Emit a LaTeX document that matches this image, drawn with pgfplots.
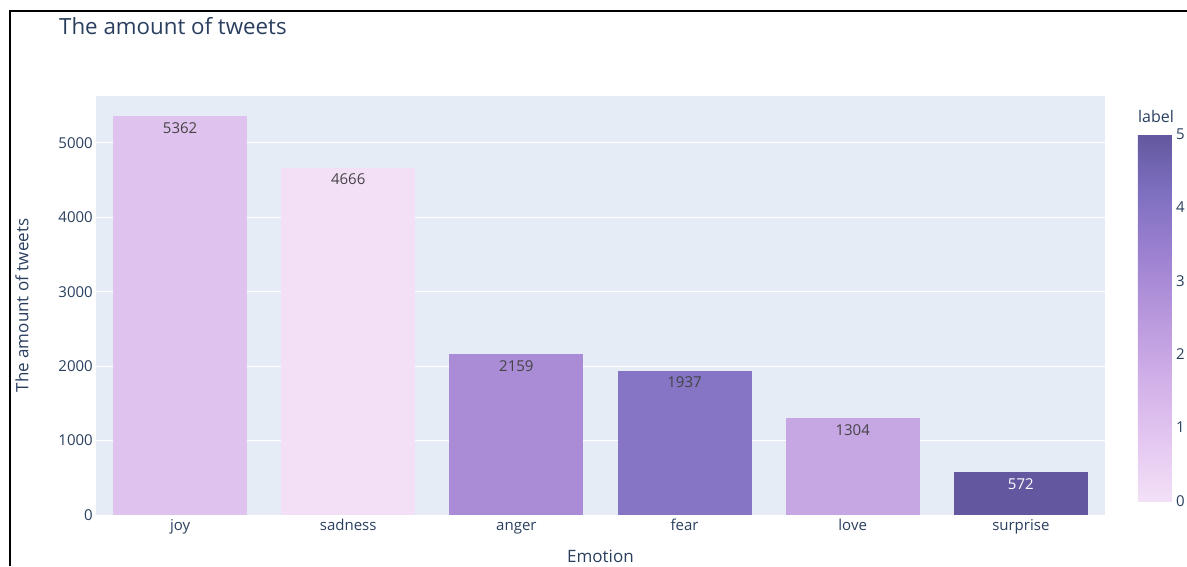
\documentclass[border=0pt]{standalone}
\usepackage{fontspec}
\setmainfont{Open Sans}
\usepackage{pgfplots}
\pgfplotsset{compat=1.18}
\definecolor{txt}{RGB}{42,63,95}
\definecolor{bg}{RGB}{229,236,246}
\definecolor{valtxt}{RGB}{68,68,68}
\definecolor{c0}{RGB}{243,224,247}
\definecolor{c1}{RGB}{224,194,239}
\definecolor{c2}{RGB}{199,166,228}
\definecolor{c3}{RGB}{169,139,214}
\definecolor{c4}{RGB}{134,116,196}
\definecolor{c5}{RGB}{99,88,159}
\begin{document}
\begin{tikzpicture}[x=1pt,y=1pt]
\useasboundingbox (0,0) rectangle (1187,566);
\draw[line width=2pt] (10,0) -- (10,555) -- (1188,555);
\begin{axis}[
  at={(96pt,51pt)}, anchor=south west,
  scale only axis, width=1009pt, height=419pt,
  xmin=-0.5, xmax=5.5, ymin=0, ymax=5630,
  axis background/.style={fill=bg},
  axis line style={draw=none},
  ymajorgrids, major grid style={white, line width=1pt},
  xtick={0,1,2,3,4,5},
  xticklabels={joy,sadness,anger,fear,love,surprise},
  ytick={0,1000,2000,3000,4000,5000},
  major tick length=0pt,
  tick style={draw=none},
  scaled y ticks=false,
  /pgf/number format/assume math mode=true,
  /pgf/number format/1000 sep={},
  ticklabel style={font=\fontsize{15}{18}\selectfont, text=txt},
  xticklabel style={anchor=base, inner sep=0pt, yshift=-15pt},
  yticklabel style={anchor=east, inner sep=0pt, xshift=-3pt},
  xlabel={Emotion}, ylabel={The amount of tweets},
  label style={font=\fontsize{17}{20}\selectfont, text=txt},
  xlabel style={at={(axis description cs:0.5,-0.0979)}, anchor=center},
  ylabel style={at={(axis description cs:-0.0733,0.5)}, anchor=center},
  ybar, bar width=134pt, bar shift=0pt,
  nodes near coords,
  every node near coord/.append style={anchor=north, inner sep=0pt, yshift=-6pt, font=\fontsize{15}{18}\selectfont},
  colormap={purp}{rgb255=(243,224,247) rgb255=(228,199,241) rgb255=(209,175,232) rgb255=(185,152,221) rgb255=(158,130,209) rgb255=(128,112,193) rgb255=(99,88,159)},
  point meta min=0, point meta max=5,
  colorbar,
  colorbar/width=34pt,
  colorbar style={
    at={(parent axis.south east)}, anchor=south west, xshift=24.5pt, yshift=14pt,
    scale only axis, width=34pt, height=367pt,
    ytick={0,1,2,3,4,5},
    yticklabel pos=right,
    axis line style={draw=none},
    tick style={draw=none}, major tick length=0pt,
    /pgf/number format/assume math mode=true,
    ticklabel style={font=\fontsize{15}{18}\selectfont, text=txt},
    every y tick label/.append style={font=\fontsize{15}{18}\selectfont, text=txt},
    yticklabel style={anchor=west, inner sep=0pt, xshift=4pt, font=\fontsize{15}{18}\selectfont, text=txt},
  },
]
\addplot[fill=c1, draw=none, point meta=y, nodes near coords style={text=valtxt}] coordinates {(0,5362)};
\addplot[fill=c0, draw=none, point meta=y, nodes near coords style={text=valtxt}] coordinates {(1,4666)};
\addplot[fill=c3, draw=none, point meta=y, nodes near coords style={text=valtxt}] coordinates {(2,2159)};
\addplot[fill=c4, draw=none, point meta=y, nodes near coords style={text=valtxt}] coordinates {(3,1937)};
\addplot[fill=c2, draw=none, point meta=y, nodes near coords style={text=valtxt}] coordinates {(4,1304)};
\addplot[fill=c5, draw=none, point meta=y, nodes near coords style={text=white}] coordinates {(5,572)};
\end{axis}
\node[anchor=base west, inner sep=0pt, font=\fontsize{22.3}{26}\selectfont, text=txt] at (59,531) {The amount of tweets};
\node[anchor=base, inner sep=0pt, font=\fontsize{16}{19}\selectfont, text=txt] at (1156,443) {label};
\end{tikzpicture}
\end{document}
